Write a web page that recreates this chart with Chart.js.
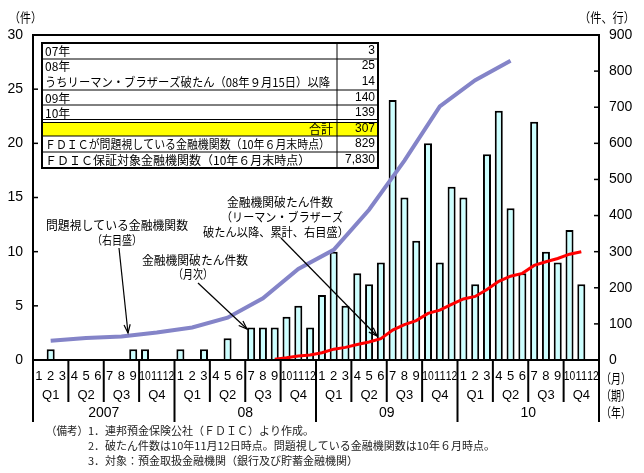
<!DOCTYPE html>
<html lang="ja">
<head>
<meta charset="utf-8">
<script src="https://cdn.jsdelivr.net/npm/chart.js@4.4.1/dist/chart.umd.min.js"></script>
<style>
  html, body { margin: 0; padding: 0; background: #fff; }
  canvas { display: block; }
</style>
</head>
<body>
<canvas id="chart" width="644" height="473"></canvas>
<script>
// Axis labels
const months = ['1', '2', '3', '4', '5', '6', '7', '8', '9', '10', '11', '12'];
const quarters = ['Q1', 'Q2', 'Q3', 'Q4'];
const years = ['2007', '08', '09', '10'];

// 金融機関破たん件数（月次） Jan 2007 - Dec 2010
const monthlyFailures = [
    0, 1, 0, 0, 0, 0, 0, 0, 1, 1, 0, 0,
    1, 0, 1, 0, 2, 0, 3, 3, 3, 4, 5, 3,
    6, 10, 5, 8, 7, 9, 24, 15, 11, 20, 9, 16,
    15, 7, 19, 23, 14, 8, 22, 10, 9, 12, 7, 0,
];

// 問題視している金融機関数 (per quarter, 07Q1 - 10Q2), plotted at the middle month
const problemBanks = [53, 61, 65, 76, 90, 117, 171, 252, 305, 416, 552, 702, 775, 829];

// リーマン破たん以降の累計 (Sep 2008 - Nov 2010)
const lehmanCumulative = [
    2, 6, 11, 14,
    20, 30, 35, 43, 50, 59, 83, 98, 109, 129, 138, 154,
    169, 176, 195, 218, 232, 240, 262, 272, 281, 293, 300,
];
const LEHMAN_START = 20; // Sep 2008

// Table in the upper left
const tableLabels = [
    '07年',
    '08年',
    'うちリーマン・ブラザーズ破たん（08年９月15日）以降',
    '09年',
    '10年',
    '合計',
    'ＦＤＩＣが問題視している金融機関数（10年６月末時点）',
    'ＦＤＩＣ保証対象金融機関数（10年６月末時点）',
];
const tableValues = ['3', '25', '14', '140', '139', '307', '829', '7,830'];

const footnotes = [
    '1．連邦預金保険公社（ＦＤＩＣ）より作成。',
    '2．破たん件数は10年11月12日時点。問題視している金融機関数は10年６月時点。',
    '3．対象：預金取扱金融機関（銀行及び貯蓄金融機関）',
];

const JP = '"Noto Sans CJK JP", sans-serif';
const NUM = '"Liberation Sans", Arial, sans-serif';

// build series
const labels = years.flatMap((yr) => months.map((m) => yr + '-' + m));
const problemSeries = labels.map((_, i) => {
    const q = (i - 1) / 3;
    return (i % 3 === 1 && q < problemBanks.length) ? problemBanks[q] : null;
});
const lehmanSeries = labels.map((_, i) => {
    const k = i - LEHMAN_START;
    return (k >= 0 && k < lehmanCumulative.length) ? lehmanCumulative[k] : null;
});

function text(ctx, str, x, y, font, align, maxWidth) {
    ctx.font = font;
    ctx.textAlign = align || 'left';
    ctx.textBaseline = 'middle';
    if (maxWidth) {
        ctx.fillText(str, x, y, maxWidth);
    } else {
        ctx.fillText(str, x, y);
    }
}

function line(ctx, x1, y1, x2, y2) {
    ctx.beginPath();
    ctx.moveTo(x1, y1);
    ctx.lineTo(x2, y2);
    ctx.stroke();
}

function arrow(ctx, x1, y1, x2, y2) {
    ctx.lineWidth = 1.2;
    line(ctx, x1, y1, x2, y2);
    const ang = Math.atan2(y2 - y1, x2 - x1);
    ctx.beginPath();
    ctx.moveTo(x2 - 9 * Math.cos(ang - 0.35), y2 - 9 * Math.sin(ang - 0.35));
    ctx.lineTo(x2, y2);
    ctx.lineTo(x2 - 9 * Math.cos(ang + 0.35), y2 - 9 * Math.sin(ang + 0.35));
    ctx.stroke();
}

const overlay = {
    id: 'overlay',
    afterDraw(chart) {
        const ctx = chart.ctx;
        const a = chart.chartArea;
        const xs = chart.scales.x;
        const yl = chart.scales.y;
        const yr = chart.scales.y1;
        ctx.save();
        ctx.strokeStyle = '#000';
        ctx.fillStyle = '#000';

        // frame
        ctx.lineWidth = 2;
        ctx.strokeRect(a.left, a.top, a.right - a.left, a.bottom - a.top);

        // inner tick marks
        ctx.lineWidth = 1.5;
        yl.ticks.forEach((t) => {
            const py = yl.getPixelForValue(t.value);
            line(ctx, a.left, py, a.left + 5, py);
        });
        yr.ticks.forEach((t) => {
            const py = yr.getPixelForValue(t.value);
            line(ctx, a.right - 5, py, a.right, py);
        });

        // x axis: months / quarters / years
        const step = xs.getPixelForValue(1) - xs.getPixelForValue(0);
        const x0 = xs.getPixelForValue(0) - step / 2;
        labels.forEach((_, i) => {
            const m = months[i % 12];
            text(ctx, m, xs.getPixelForValue(i), 376, '13px ' + NUM, 'center', m.length > 1 ? 11.5 : undefined);
        });
        for (let q = 0; q < 16; q++) {
            text(ctx, quarters[q % 4], x0 + (q * 3 + 1.5) * step, 395, '13px ' + NUM, 'center');
        }
        years.forEach((yrLabel, k) => {
            text(ctx, yrLabel, x0 + (k * 12 + 6) * step, 413, '14px ' + NUM, 'center');
        });
        ctx.lineWidth = 2;
        for (let i = 0; i <= 48; i += 3) {
            const bx = x0 + i * step;
            line(ctx, bx, a.bottom, bx, i % 12 === 0 ? 422 : 402);
        }
        text(ctx, '（月）', 601, 378, '13px ' + JP, 'left', 30);
        text(ctx, '（期）', 601, 395, '13px ' + JP, 'left', 30);
        text(ctx, '（年）', 601, 412, '13px ' + JP, 'left', 30);

        // unit labels
        text(ctx, '（件）', 9, 17, '13px ' + JP, 'left', 33);
        text(ctx, '（件、行）', 579, 17, '13px ' + JP, 'left', 56);

        // table
        const tl = 42, tr = 378, tc = 337, tt = 43, tb = 168;
        ctx.fillStyle = '#fff';
        ctx.fillRect(tl, tt, tr - tl, tb - tt);
        ctx.fillStyle = '#ffff00';
        ctx.fillRect(tl, 122, tr - tl, 14);
        ctx.lineWidth = 1;
        [59, 90, 105, 119.5, 122.5, 136, 152].forEach((hy) => line(ctx, tl, hy, tr, hy));
        line(ctx, tc, tt, tc, tb);
        ctx.lineWidth = 2;
        ctx.strokeRect(tl, tt, tr - tl, tb - tt);
        ctx.fillStyle = '#000';
        const rowY = [51, 66, 82, 98, 113, 129, 144, 160];
        tableLabels.forEach((lab, i) => {
            if (i === 5) {
                text(ctx, lab, tc - 4, rowY[i], '12px ' + JP, 'right');
            } else {
                text(ctx, lab, tl + 3, rowY[i], '12px ' + JP, 'left', tc - tl - 10);
            }
            text(ctx, tableValues[i], tr - 3, rowY[i], '12px ' + NUM, 'right');
        });

        // annotations
        const af = '12px ' + JP;
        text(ctx, '問題視している金融機関数', 117, 225, af, 'center', 142);
        text(ctx, '（右目盛）', 117, 240, af, 'center', 50);
        arrow(ctx, 119, 248, 128, 333);

        text(ctx, '金融機関破たん件数', 195, 260, af, 'center', 106);
        text(ctx, '（月次）', 193, 274, af, 'center', 40);
        arrow(ctx, 198, 283, 247, 329);

        text(ctx, '金融機関破たん件数', 280, 202, af, 'center', 106);
        text(ctx, '（リーマン・ブラザーズ', 282, 217, af, 'center', 122);
        text(ctx, '破たん以降、累計、右目盛）', 276, 232, af, 'center', 146);
        arrow(ctx, 281, 238, 377, 336);

        // footnotes
        ctx.fillStyle = '#222';
        const ff = '11px ' + JP;
        text(ctx, '（備考）', 46, 431, ff, 'left', 42);
        text(ctx, footnotes[0], 88, 431, ff, 'left', 232);
        text(ctx, footnotes[1], 88, 446, ff, 'left', 420);
        text(ctx, footnotes[2], 88, 461, ff, 'left', 278);

        ctx.restore();
    },
};

new Chart(document.getElementById('chart'), {
    type: 'bar',
    data: {
        labels: labels,
        datasets: [
            {
                type: 'line',
                label: '金融機関破たん件数（リーマン・ブラザーズ破たん以降、累計、右目盛）',
                data: lehmanSeries,
                yAxisID: 'y1',
                borderColor: '#ff0000',
                borderWidth: 3,
                pointRadius: 0,
                tension: 0,
                order: 0,
            },
            {
                type: 'line',
                label: '問題視している金融機関数（右目盛）',
                data: problemSeries,
                yAxisID: 'y1',
                borderColor: '#8484c8',
                borderWidth: 4,
                pointRadius: 0,
                tension: 0,
                spanGaps: true,
                order: 1,
            },
            {
                label: '金融機関破たん件数（月次）',
                data: monthlyFailures,
                yAxisID: 'y',
                backgroundColor: '#ccffff',
                borderColor: '#000',
                borderWidth: 2,
                borderSkipped: 'bottom',
                barPercentage: 0.68,
                categoryPercentage: 1,
                order: 2,
            },
        ],
    },
    options: {
        responsive: false,
        animation: false,
        layout: { padding: { top: 35, bottom: 113, left: 0, right: 0 } },
        plugins: {
            legend: { display: false },
            tooltip: { enabled: false },
        },
        scales: {
            x: { display: false },
            y: {
                position: 'left',
                min: 0,
                max: 30,
                ticks: { stepSize: 5, padding: 10, color: '#000', font: { family: NUM, size: 14 } },
                grid: { display: false, drawTicks: false },
                border: { display: false },
                afterFit(scale) { scale.width = 33; },
            },
            y1: {
                position: 'right',
                min: 0,
                max: 900,
                ticks: { stepSize: 100, padding: 10, color: '#000', font: { family: NUM, size: 14 } },
                grid: { display: false, drawTicks: false },
                border: { display: false },
                afterFit(scale) { scale.width = 45; },
            },
        },
    },
    plugins: [overlay],
});
</script>
</body>
</html>
